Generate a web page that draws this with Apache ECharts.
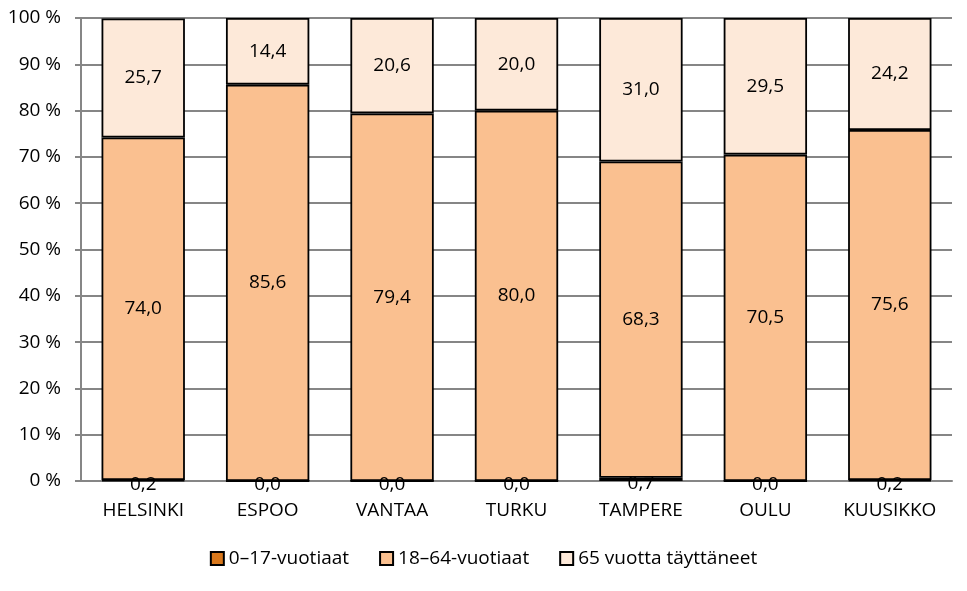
<!DOCTYPE html>
<html>
<head>
<meta charset="utf-8">
<script src="https://cdn.jsdelivr.net/npm/echarts@6/dist/echarts.min.js"></script>
<style>
  html, body { margin: 0; padding: 0; background: #fff; }
  #chart { width: 967px; height: 591px; }
</style>
</head>
<body>
<div id="chart"></div>
<script>
// Population shares by age group, per city (%)
const cities = ['HELSINKI', 'ESPOO', 'VANTAA', 'TURKU', 'TAMPERE', 'OULU', 'KUUSIKKO'];
const age0to17 = [0.2, 0.0, 0.0, 0.0, 0.7, 0.0, 0.2];
const age18to64 = [74.0, 85.6, 79.4, 80.0, 68.3, 70.5, 75.6];
const age65plus = [25.7, 14.4, 20.6, 20.0, 31.0, 29.5, 24.2];
const seriesNames = ['0–17-vuotiaat', '18–64-vuotiaat', '65 vuotta täyttäneet'];

const font = '"Open Sans", "Noto Sans", sans-serif';

function fmt(p) {
    return p.value.toFixed(1).replace('.', ',');
}

function makeSeries(name, data, color, labelOffset) {
    return {
        name: name,
        type: 'bar',
        stack: 'total',
        barCategoryGap: '33%',
        data: data,
        itemStyle: { color: color, borderColor: '#000', borderWidth: 1.8 },
        label: {
            show: true,
            position: 'inside',
            offset: labelOffset || [0, 0],
            formatter: fmt,
            color: '#000',
            fontFamily: font,
            fontSize: 19
        }
    };
}

const chart = echarts.init(document.getElementById('chart'));

chart.setOption({
    animation: false,
    textStyle: { fontFamily: font },
    grid: { left: 81, right: 15, top: 18, bottom: 110 },
    legend: {
        bottom: 18,
        left: 'center',
        itemWidth: 13,
        itemHeight: 13,
        itemGap: 30,
        icon: 'rect',
        textStyle: { fontSize: 19, color: '#000', fontFamily: font },
        data: seriesNames
    },
    xAxis: {
        type: 'category',
        data: cities,
        axisLine: { lineStyle: { color: '#868686', width: 2 } },
        axisTick: { show: false },
        axisLabel: { color: '#000', fontSize: 19, margin: 20, fontFamily: font }
    },
    yAxis: {
        type: 'value',
        min: 0,
        max: 100,
        interval: 10,
        axisLine: { show: true, lineStyle: { color: '#868686', width: 2 } },
        axisTick: { show: true, length: 6, lineStyle: { color: '#868686', width: 2 } },
        splitLine: { lineStyle: { color: '#868686', width: 2 } },
        axisLabel: {
            color: '#000',
            fontSize: 19,
            margin: 20,
            fontFamily: font,
            formatter: '{value} %'
        }
    },
    series: [
        makeSeries(seriesNames[0], age0to17, '#D9781C', [0, 4]),
        makeSeries(seriesNames[1], age18to64, '#FAC090'),
        makeSeries(seriesNames[2], age65plus, '#FDE9D9')
    ]
});
</script>
</body>
</html>
